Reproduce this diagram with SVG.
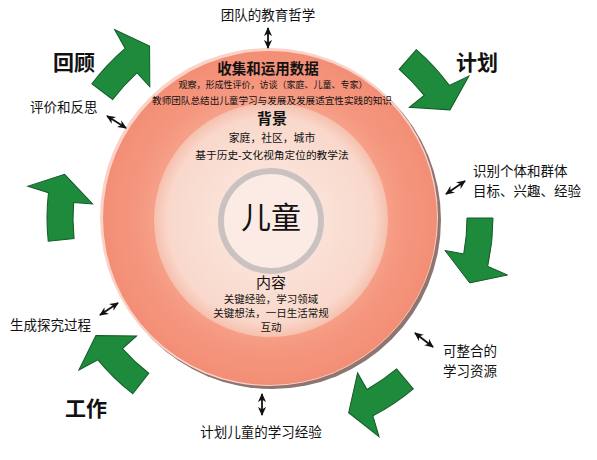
<svg xmlns="http://www.w3.org/2000/svg" width="597" height="460" viewBox="0 0 597 460">
<style>
text{font-family:"Noto Sans CJK SC","Noto Sans",sans-serif;fill:#111}
.big{font-size:21px;font-weight:bold}
.lbl{font-size:13.5px}
.c{text-anchor:middle}
.arrow{fill:#1E8A3C;stroke:#135A27;stroke-width:1}
.dbl{stroke:#111;stroke-width:1.8;fill:none;marker-start:url(#ah);marker-end:url(#ah)}
</style>
<defs>
<marker id="ah" viewBox="0 0 10 10" refX="9" refY="5" markerWidth="5" markerHeight="5" orient="auto-start-reverse"><path d="M0,0.5 L10,5 L0,9.5 L3,5 Z" fill="#111"/></marker>
<radialGradient id="ring" cx="0.5" cy="0.5" r="0.5">
<stop offset="0.65" stop-color="#F7A48D"/>
<stop offset="0.8" stop-color="#F5967E"/>
<stop offset="1" stop-color="#F38E76"/>
</radialGradient>
<radialGradient id="disk" cx="0.5" cy="0.5" r="0.5">
<stop offset="0" stop-color="#FCEBE4"/>
<stop offset="0.88" stop-color="#F9D8CB"/>
<stop offset="1" stop-color="#F6C0AE"/>
</radialGradient>
<path id="garrow" d="M223,0 A223,223 0 0 1 217.7,48.3 L237.5,57 L199.7,64.9 L175,32.5 L193.7,35.9 A197,197 0 0 0 197,0 Z"/>
</defs>
<rect width="597" height="460" fill="#fff"/>

<g id="circle">
<circle cx="272" cy="220" r="169" fill="#8E7570"/>
<circle cx="269" cy="217" r="169" fill="#FAD2C6"/>
<circle cx="270" cy="218" r="167" fill="url(#ring)"/>
<circle cx="271" cy="220" r="117" fill="url(#disk)"/>
<circle cx="271" cy="221" r="50" fill="#FCEBE4" stroke="#C9C2C0" stroke-width="6"/>
</g>

<g id="cycle-arrows">
<use href="#garrow" class="arrow" transform="translate(270,218) rotate(217)"/>
<use href="#garrow" class="arrow" transform="translate(270,218) rotate(311)"/>
<use href="#garrow" class="arrow" transform="translate(270,218) rotate(0)"/>
<use href="#garrow" class="arrow" transform="translate(270,218) rotate(50)"/>
<use href="#garrow" class="arrow" transform="translate(270,218) rotate(128)"/>
<use href="#garrow" class="arrow" transform="translate(270,218) rotate(174)"/>
</g>

<g id="connectors">
<line class="dbl" x1="268" y1="28" x2="268" y2="48"/>
<line class="dbl" x1="446" y1="194" x2="465" y2="181"/>
<line class="dbl" x1="415" y1="333" x2="433" y2="347"/>
<line class="dbl" x1="262" y1="394" x2="262" y2="415"/>
<line class="dbl" x1="107" y1="116" x2="126" y2="128"/>
<line class="dbl" x1="100" y1="315" x2="118" y2="303"/>
</g>

<g id="child"><text class="c" x="271" y="228" font-size="30">儿童</text></g>

<g id="data">
<text class="c" x="268" y="74" font-size="14.5" font-weight="bold">收集和运用数据</text>
<text class="c" x="273" y="88" font-size="9">观察，形成性评价，访谈（家庭、儿童、专家）</text>
<text class="c" x="272" y="104" font-size="9.6">教师团队总结出儿童学习与发展及发展适宜性实践的知识</text>
</g>

<g id="context">
<text class="c" x="272" y="124" font-size="15" font-weight="bold">背景</text>
<text class="c" x="272" y="142" font-size="10.8">家庭，社区，城市</text>
<text class="c" x="272" y="159" font-size="10.7">基于历史-文化视角定位的教学法</text>
</g>

<g id="content">
<text class="c" x="271" y="288" font-size="15">内容</text>
<text class="c" x="271" y="303" font-size="10.5">关键经验，学习领域</text>
<text class="c" x="271" y="317" font-size="10.5">关键想法，一日生活常规</text>
<text class="c" x="271" y="331" font-size="10.5">互动</text>
</g>

<g id="philosophy"><text class="lbl c" x="268" y="20">团队的教育哲学</text></g>
<g id="plan"><text class="big" x="456" y="70">计划</text></g>
<g id="identify">
<text class="lbl" x="473" y="176">识别个体和群体</text>
<text class="lbl" x="473" y="196">目标、兴趣、经验</text>
</g>
<g id="resources">
<text class="lbl" x="443" y="356" font-size="13">可整合的</text>
<text class="lbl" x="443" y="376" font-size="13">学习资源</text>
</g>
<g id="plan-experience"><text class="lbl c" x="261" y="437">计划儿童的学习经验</text></g>
<g id="work"><text class="big" x="65" y="416">工作</text></g>
<g id="inquiry"><text class="lbl" x="10" y="330">生成探究过程</text></g>
<g id="review"><text class="big" x="53" y="70">回顾</text></g>
<g id="reflect"><text class="lbl" x="30" y="112">评价和反思</text></g>
</svg>
